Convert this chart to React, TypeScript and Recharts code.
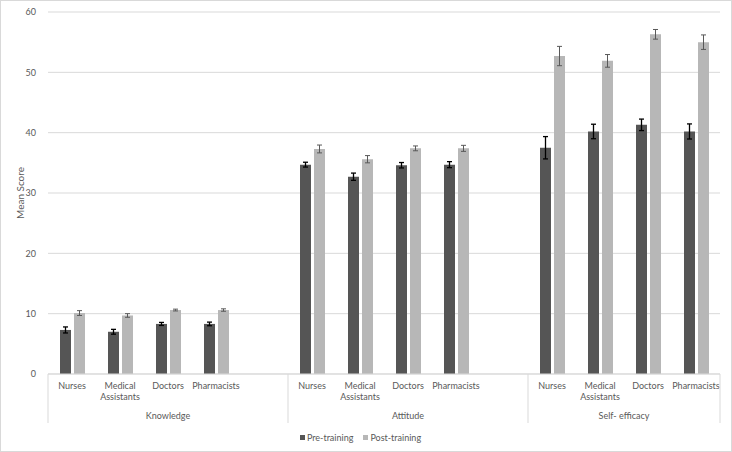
import React from 'react'
import { Bar, BarChart, CartesianGrid, ErrorBar, Legend, XAxis, YAxis } from 'recharts'

const groups = ['Knowledge', 'Attitude', 'Self- efficacy']
const professions = ['Nurses', 'Medical Assistants', 'Doctors', 'Pharmacists']

// mean scores per group, in profession order
const knowledgePre = [7.3, 7.0, 8.3, 8.3]
const knowledgePost = [10.1, 9.7, 10.6, 10.6]
const attitudePre = [34.7, 32.7, 34.6, 34.7]
const attitudePost = [37.3, 35.6, 37.4, 37.4]
const efficacyPre = [37.5, 40.2, 41.3, 40.2]
const efficacyPost = [52.7, 51.9, 56.3, 55.0]

// error bar half-lengths
const knowledgePreErr = [0.5, 0.4, 0.25, 0.3]
const knowledgePostErr = [0.4, 0.3, 0.15, 0.2]
const attitudePreErr = [0.4, 0.6, 0.45, 0.5]
const attitudePostErr = [0.65, 0.6, 0.4, 0.5]
const efficacyPreErr = [1.85, 1.2, 0.95, 1.25]
const efficacyPostErr = [1.6, 1.05, 0.8, 1.2]

const yTicks = [0, 10, 20, 30, 40, 50, 60]

const pre = [knowledgePre, attitudePre, efficacyPre]
const post = [knowledgePost, attitudePost, efficacyPost]
const preErr = [knowledgePreErr, attitudePreErr, efficacyPreErr]
const postErr = [knowledgePostErr, attitudePostErr, efficacyPostErr]

type Row = {
  id: string
  profession?: string
  group?: string
  span?: number
  pre?: number
  post?: number
  preErr?: number
  postErr?: number
}

const rows: Row[] = []
groups.forEach((group, g) => {
  const last = g === groups.length - 1
  professions.forEach((profession, p) => {
    rows.push({
      id: `${group}-${profession}`,
      profession,
      group: p === 0 ? group : undefined,
      span: last ? professions.length : professions.length + 1,
      pre: pre[g][p],
      post: post[g][p],
      preErr: preErr[g][p],
      postErr: postErr[g][p],
    })
  })
  if (!last) rows.push({ id: `gap-${g}` })
})

const TEXT = '#595959'
const LINE = '#d9d9d9'
const FONT = 'Lato, "Liberation Sans", sans-serif'

const CategoryTick = (props: any) => {
  const { x, y, index, payload } = props
  const row = rows[index]
  const half = payload?.offset ?? 24
  const isLast = index === rows.length - 1
  const words = row?.profession ? row.profession.split(' ') : []
  return (
    <g>
      {words.map((w, i) => (
        <text key={w} x={x} y={y + 15 + i * 11} textAnchor="middle" fill={TEXT} fontSize={9} fontFamily={FONT}>
          {w}
        </text>
      ))}
      {row?.group && (
        <>
          <line x1={x - half} x2={x - half} y1={y} y2={y + 49} stroke={LINE} />
          <text
            x={x - half + (row.span ?? 4) * half}
            y={y + 45}
            textAnchor="middle"
            fill={TEXT}
            fontSize={9}
            fontFamily={FONT}
          >
            {row.group}
          </text>
        </>
      )}
      {isLast && <line x1={x + half} x2={x + half} y1={y} y2={y + 49} stroke={LINE} />}
    </g>
  )
}

const YLabel = (props: any) => {
  const vb = props.viewBox ?? { x: 0, y: 0, height: 0 }
  const cx = 19
  const cy = vb.y + vb.height / 2
  return (
    <text
      x={cx}
      y={cy}
      transform={`rotate(-90 ${cx} ${cy})`}
      textAnchor="middle"
      dominantBaseline="central"
      style={{ fill: TEXT, stroke: 'none' }}
      fontSize={10}
      fontFamily={FONT}
    >
      Mean Score
    </text>
  )
}

const LegendContent = () => (
  <div
    style={{
      height: 28,
      display: 'flex',
      justifyContent: 'center',
      alignItems: 'center',
      gap: 10,
      fontFamily: FONT,
      fontSize: 9,
      color: TEXT,
    }}
  >
    <span style={{ display: 'flex', alignItems: 'center', gap: 2 }}>
      <span style={{ width: 5, height: 5, background: '#555555', display: 'inline-block' }} />
      Pre-training
    </span>
    <span style={{ display: 'flex', alignItems: 'center', gap: 2 }}>
      <span style={{ width: 5, height: 5, background: '#b7b7b7', display: 'inline-block' }} />
      Post-training
    </span>
  </div>
)

const App = () => {
  return (
    <div
      style={{
        position: 'absolute',
        left: 0,
        top: 0,
        width: 732,
        height: 452,
        boxSizing: 'border-box',
        border: `1px solid ${LINE}`,
        background: '#fff',
      }}
    >
      <BarChart
        width={730}
        height={450}
        data={rows}
        margin={{ top: 11, right: 11, left: 0, bottom: 0 }}
        barSize={11}
        barGap={3}
      >
        <CartesianGrid vertical={false} stroke={LINE} />
        <XAxis
          dataKey="id"
          interval={0}
          height={49}
          tickLine={false}
          tickSize={0}
          tickMargin={0}
          axisLine={{ stroke: LINE }}
          tick={<CategoryTick />}
        />
        <YAxis
          width={47}
          domain={[0, 60]}
          ticks={yTicks}
          axisLine={false}
          tickLine={false}
          tickMargin={6}
          tick={{ fill: TEXT, fontSize: 9, fontFamily: FONT }}
          label={{ content: YLabel }}
        />
        <Legend verticalAlign="bottom" content={<LegendContent />} />
        <Bar dataKey="pre" name="Pre-training" fill="#555555" isAnimationActive={false}>
          <ErrorBar dataKey="preErr" width={2.5} stroke="#000000" strokeWidth={1.3} />
        </Bar>
        <Bar dataKey="post" name="Post-training" fill="#b7b7b7" isAnimationActive={false}>
          <ErrorBar dataKey="postErr" width={2.5} stroke="#595959" strokeWidth={1} />
        </Bar>
      </BarChart>
    </div>
  )
}

export default App
